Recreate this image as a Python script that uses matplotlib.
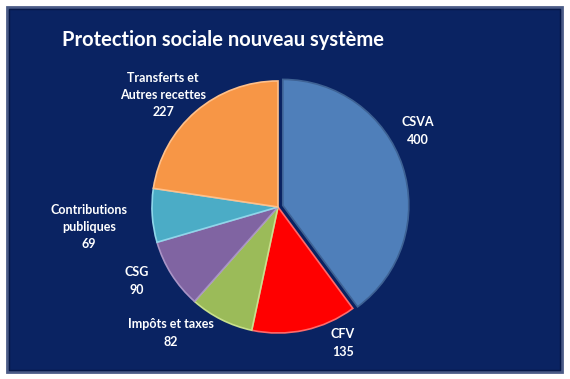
import matplotlib.pyplot as plt
from matplotlib.patches import Rectangle

categories = ['CSVA', 'CFV', 'Impôts et taxes', 'CSG', 'Contributions\npubliques', 'Transferts et\nAutres recettes']
values = [400, 135, 82, 90, 69, 227]
colors = ['#4f7fba', '#ff0000', '#9bbb59', '#8064a2', '#4bacc6', '#f79646']
edges = ['#7ea6d8', '#ff6a6a', '#c8e08c', '#a994c6', '#8fd6ea', '#ffc08a']
explode = [0.04, 0, 0, 0, 0, 0]
# label positions (pixels from top-left)
label_pos = [(418, 131), (343, 343), (171, 333), (137, 281), (89, 227), (163, 95)]

W, H = 570, 379
R = 126
fig = plt.figure(figsize=(W / 100, H / 100), dpi=100)
fig.patch.set_facecolor('white')
ax = fig.add_axes([0, 0, 1, 1])

# dark panel
ax.add_patch(Rectangle((7, 7), 555, 365, facecolor='#0a2362', edgecolor='#4a5b86', lw=2, zorder=0))
ax.add_patch(Rectangle((9, 9), 551, 361, facecolor='none', edgecolor='#061848', lw=1, zorder=0))

ax.text(223, H - 40, 'Protection sociale nouveau système', color='white', fontsize=14.5,
        fontweight='bold', family='Lato', ha='center', va='center')

wedges, _ = ax.pie(values, colors=colors, startangle=90, counterclock=False,
                   explode=[e * R for e in explode],
                   center=(278, H - 207), radius=R, frame=True,
                   wedgeprops=dict(linewidth=1.2))
for w, e in zip(wedges, edges):
    w.set_edgecolor(e)
    w.set_zorder(2)
wedges[0].set_edgecolor('#3e6294')
ax.set_xlim(0, W)
ax.set_ylim(0, H)
ax.axis('off')

for name, v, (x, y) in zip(categories, values, label_pos):
    ax.text(x, H - y, f'{name}\n{v}', color='white', fontsize=9, fontweight='bold',
            family='Lato', ha='center', va='center', linespacing=1.55)

fig.savefig('out.png', dpi=100, facecolor='white')
